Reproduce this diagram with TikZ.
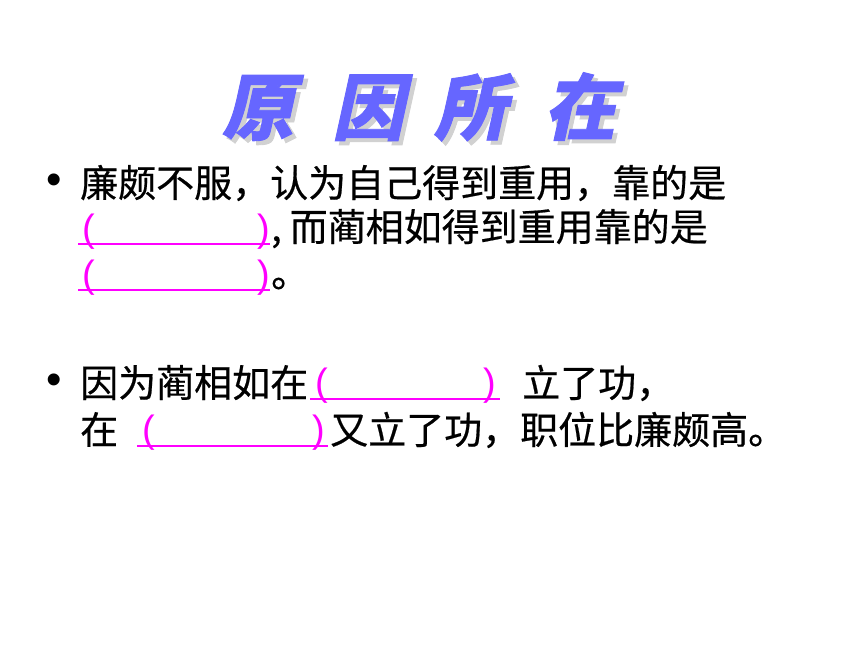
\documentclass[tikz,border=0pt]{standalone}
\usepackage{fontspec}
\setmainfont{Liberation Sans}
\newfontfamily\cjk[FakeBold=0.5]{Noto Sans CJK SC}
\newfontfamily\cjktitle[FakeSlant=0.22,FakeBold=1.2]{Noto Sans CJK SC}
\definecolor{titleblue}{RGB}{102,102,255}
\definecolor{blankpink}{RGB}{255,0,255}
\tikzset{
  body/.style={anchor=base west,inner sep=0pt,font=\cjk\fontsize{38}{40}\selectfont,text=black},
  paren/.style={anchor=base west,inner sep=0pt,font=\fontsize{38}{40}\selectfont,text=blankpink},
  blank/.style={draw=blankpink,line width=2pt},
  bulletmark/.style={anchor=base west,inner sep=0pt,font=\fontsize{44}{46}\selectfont},
  ttl/.style={anchor=base,inner sep=0pt,font=\cjktitle\bfseries\fontsize{72}{74}\selectfont,text=titleblue},
  ttlshadow/.style={anchor=base,inner sep=0pt,font=\cjktitle\bfseries\fontsize{72}{74}\selectfont,text=black!18}
}
\begin{document}
\begin{tikzpicture}[x=1pt,y=-1pt]
\useasboundingbox (0,0) rectangle (860,645);
\fill[white] (0,0) rectangle (860,645);
% title
\foreach \c/\x/\n in {原/258/t1,因/368/t2,所/470/t3,在/580/t4}{
  \node[ttlshadow] at (\x+4,138) {\c};
  \node[ttl] (\n) at (\x,134) {\c};
}
% bullet 1
\node[bulletmark] (b1) at (46,194) {•};
\node[body] (l1) at (80,197) {廉颇不服，认为自己得到重用，靠的是};
\coordinate (u1a) at (78,244);
\coordinate (u1b) at (270,244);
\draw[blank] (u1a) -- (u1b);
\node[paren] (p1l) at (82,241) {(};
\node[paren] (p1r) at (257,241) {)};
\node[body] (l2) at (271,241) {,\hspace{8pt}而蔺相如得到重用靠的是};
\coordinate (u2a) at (78,290);
\coordinate (u2b) at (270,290);
\draw[blank] (u2a) -- (u2b);
\node[paren] (p2l) at (82,287) {(};
\node[paren] (p2r) at (257,287) {)};
\node[body] (l3) at (271,287) {。};
% bullet 2
\node[bulletmark] (b2) at (46,394) {•};
\node[body] (l4) at (80,397) {因为蔺相如在};
\coordinate (u3a) at (310,399);
\coordinate (u3b) at (500,399);
\draw[blank] (u3a) -- (u3b);
\node[paren] (p3l) at (315,395) {(};
\node[paren] (p3r) at (483,395) {)};
\node[body] (l4b) at (522,397) {立了功，};
\node[body] (l5) at (80,444) {在};
\coordinate (u4a) at (137,446);
\coordinate (u4b) at (328,446);
\draw[blank] (u4a) -- (u4b);
\node[paren] (p4l) at (142,442) {(};
\node[paren] (p4r) at (312,442) {)};
\node[body] (l5b) at (330,444) {又立了功，职位比廉颇高。};
\end{tikzpicture}
\end{document}
